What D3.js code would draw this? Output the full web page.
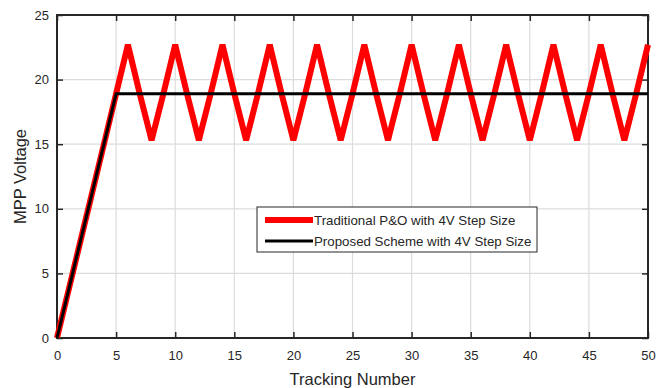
<!DOCTYPE html>
<html>
<head>
<meta charset="utf-8">
<script src="https://cdn.jsdelivr.net/npm/d3@7"></script>
<style>
  body { margin: 0; background: #fff; }
  text { font-family: "Liberation Sans", Arial, sans-serif; fill: #262626; }
</style>
</head>
<body>
<svg width="670" height="388"></svg>
<script>
// tracking number 0..50
var tracking = [0,1,2,3,4,5,6,7,8,9,10,11,12,13,14,15,16,17,18,19,20,21,22,23,24,25,
  26,27,28,29,30,31,32,33,34,35,36,37,38,39,40,41,42,43,44,45,46,47,48,49,50]

// traditional P&O, oscillates around the MPP
var poVoltage = [0,3.78,7.56,11.34,15.12,18.9,22.7,18.9,15.3,18.9,22.7,18.9,15.3,18.9,22.7,18.9,
  15.3,18.9,22.7,18.9,15.3,18.9,22.7,18.9,15.3,18.9,22.7,18.9,15.3,18.9,22.7,18.9,15.3,18.9,
  22.7,18.9,15.3,18.9,22.7,18.9,15.3,18.9,22.7,18.9,15.3,18.9,22.7,18.9,15.3,18.9,22.7]

// proposed scheme, settles at the MPP
var propVoltage = [0,3.78,7.56,11.34,15.12,18.9,18.9,18.9,18.9,18.9,18.9,18.9,18.9,18.9,18.9,18.9,
  18.9,18.9,18.9,18.9,18.9,18.9,18.9,18.9,18.9,18.9,18.9,18.9,18.9,18.9,18.9,18.9,18.9,18.9,
  18.9,18.9,18.9,18.9,18.9,18.9,18.9,18.9,18.9,18.9,18.9,18.9,18.9,18.9,18.9,18.9,18.9]

var xTicks = [0,5,10,15,20,25,30,35,40,45,50]
var yTicks = [0,5,10,15,20,25]
var legendLabels = ["Traditional P&O with 4V Step Size", "Proposed Scheme with 4V Step Size"]

var margin = {left: 57, top: 15, right: 22, bottom: 50}
var W = 670, H = 388
var w = W - margin.left - margin.right
var h = H - margin.top - margin.bottom

var svg = d3.select('svg')
var g = svg.append('g').attr('transform', 'translate(' + margin.left + ',' + margin.top + ')')

var x = d3.scaleLinear().domain([0, 50]).range([0, w])
var y = d3.scaleLinear().domain([0, 25]).range([h, 0])

// grid
g.append('g').selectAll('line').data(xTicks.slice(1, -1)).enter().append('line')
  .attr('x1', d => x(d)).attr('x2', d => x(d)).attr('y1', 0).attr('y2', h)
  .style('stroke', '#dcdcdc').style('stroke-width', 1.2)
g.append('g').selectAll('line').data(yTicks.slice(1, -1)).enter().append('line')
  .attr('y1', d => y(d)).attr('y2', d => y(d)).attr('x1', 0).attr('x2', w)
  .style('stroke', '#dcdcdc').style('stroke-width', 1.2)

// axes (ticks inward, box all round)
var tickLen = 6
function styleAxis(sel) {
  sel.select('.domain').remove()
  sel.selectAll('.tick line').style('stroke', '#262626').style('stroke-width', 1.5)
  sel.selectAll('.tick text').style('font-size', '13px').style('fill', '#262626')
}
g.append('g').attr('transform', 'translate(0,' + h + ')')
  .call(d3.axisBottom(x).tickValues(xTicks).tickSizeInner(-tickLen).tickPadding(13))
  .call(styleAxis)
g.append('g')
  .call(d3.axisTop(x).tickValues(xTicks).tickSizeInner(-tickLen).tickFormat(''))
  .call(styleAxis)
g.append('g')
  .call(d3.axisLeft(y).tickValues(yTicks).tickSizeInner(-tickLen).tickPadding(8))
  .call(styleAxis)
g.append('g').attr('transform', 'translate(' + w + ',0)')
  .call(d3.axisRight(y).tickValues(yTicks).tickSizeInner(-tickLen).tickFormat(''))
  .call(styleAxis)

g.append('rect').attr('width', w).attr('height', h)
  .style('fill', 'none').style('stroke', '#262626').style('stroke-width', 2)

// lines
var clip = svg.append('clipPath').attr('id', 'plotclip')
clip.append('rect').attr('x', -4).attr('y', -4).attr('width', w + 8).attr('height', h + 4)

var line = d3.line().x((d, i) => x(tracking[i])).y(d => y(d))
g.append('path').datum(poVoltage).attr('d', line)
  .attr('clip-path', 'url(#plotclip)')
  .style('fill', 'none').style('stroke', '#ff0000').style('stroke-width', 6)
  .style('stroke-linejoin', 'miter').style('stroke-miterlimit', 2)
g.append('path').datum(propVoltage).attr('d', line)
  .style('fill', 'none').style('stroke', '#000').style('stroke-width', 3)

// axis labels
svg.append('text').attr('x', margin.left + w / 2).attr('y', 385)
  .attr('text-anchor', 'middle').style('font-size', '16.5px').text('Tracking Number')
svg.append('text').attr('transform', 'translate(26,' + (margin.top + h / 2) + ') rotate(-90)')
  .attr('text-anchor', 'middle').style('font-size', '16.5px').text('MPP Voltage')

// legend
var lg = svg.append('g').attr('transform', 'translate(257,207)')
lg.append('rect').attr('width', 280).attr('height', 45)
  .style('fill', '#fff').style('stroke', '#262626').style('stroke-width', 1)
var legendColors = ['#ff0000', '#000']
var legendWidths = [6, 3]
legendLabels.forEach(function (lab, i) {
  var yy = 13 + i * 21
  lg.append('line').attr('x1', 8).attr('x2', 56).attr('y1', yy).attr('y2', yy)
    .style('stroke', legendColors[i]).style('stroke-width', legendWidths[i])
  lg.append('text').attr('x', 57).attr('y', yy + 5).style('font-size', '13.3px').text(lab)
})
</script>
</body>
</html>
